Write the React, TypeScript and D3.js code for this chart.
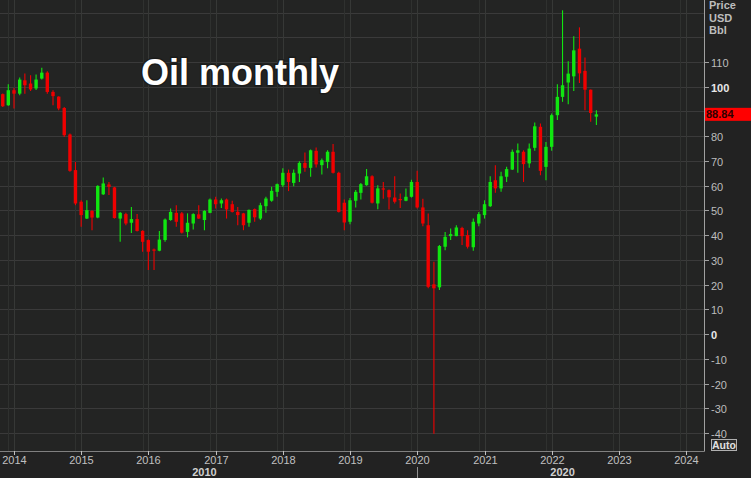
import React, { useEffect } from "react";
import * as d3 from "d3";

const months: string[] = [
  "2013-11", "2013-12",
  "2014-01", "2014-02", "2014-03", "2014-04", "2014-05", "2014-06", "2014-07", "2014-08", "2014-09", "2014-10", "2014-11", "2014-12",
  "2015-01", "2015-02", "2015-03", "2015-04", "2015-05", "2015-06", "2015-07", "2015-08", "2015-09", "2015-10", "2015-11", "2015-12",
  "2016-01", "2016-02", "2016-03", "2016-04", "2016-05", "2016-06", "2016-07", "2016-08", "2016-09", "2016-10", "2016-11", "2016-12",
  "2017-01", "2017-02", "2017-03", "2017-04", "2017-05", "2017-06", "2017-07", "2017-08", "2017-09", "2017-10", "2017-11", "2017-12",
  "2018-01", "2018-02", "2018-03", "2018-04", "2018-05", "2018-06", "2018-07", "2018-08", "2018-09", "2018-10", "2018-11", "2018-12",
  "2019-01", "2019-02", "2019-03", "2019-04", "2019-05", "2019-06", "2019-07", "2019-08", "2019-09", "2019-10", "2019-11", "2019-12",
  "2020-01", "2020-02", "2020-03", "2020-04", "2020-05", "2020-06", "2020-07", "2020-08", "2020-09", "2020-10", "2020-11", "2020-12",
  "2021-01", "2021-02", "2021-03", "2021-04", "2021-05", "2021-06", "2021-07", "2021-08", "2021-09", "2021-10", "2021-11", "2021-12",
  "2022-01", "2022-02", "2022-03", "2022-04", "2022-05", "2022-06", "2022-07", "2022-08", "2022-09",
];

const opens: number[] = [
  97.0, 92.5,
  98.6, 97.2, 102.6, 101.3, 99.3, 103.3, 105.7, 97.9, 96.0, 91.4, 80.7, 66.3,
  53.5, 46.7, 49.8, 47.1, 56.5, 60.5, 59.3, 46.7, 48.5, 45.0, 46.5, 41.7,
  38.0, 34.2, 33.7, 38.0, 46.1, 49.0, 48.8, 41.3, 44.7, 48.4, 46.1, 49.0,
  54.4, 52.8, 54.4, 52.5, 49.4, 48.8, 45.0, 50.5, 46.7, 51.7, 53.9, 57.5,
  60.2, 65.2, 61.1, 64.9, 69.2, 67.2, 74.1, 68.3, 69.6, 73.7, 65.2, 53.1,
  45.4, 53.9, 57.1, 60.2, 63.8, 52.8, 58.9, 58.2, 55.2, 54.6, 53.9, 55.5,
  61.5, 51.2, 44.0, 20.1, 18.9, 35.3, 39.6, 39.6, 42.9, 40.0, 35.1, 44.7,
  48.1, 51.7, 62.2, 58.9, 63.6, 66.5, 73.3, 73.7, 69.0, 75.3, 83.8, 67.6,
  75.7, 88.5, 95.9, 101.7, 104.2, 115.4, 106.4, 98.8, 87.9,
];

const highs: number[] = [
  97.3, 101.0,
  99.5, 103.7, 105.3, 104.6, 104.9, 107.7, 106.3, 98.6, 96.2, 91.8, 81.1, 69.6,
  54.1, 54.1, 50.1, 60.2, 63.3, 61.5, 59.5, 49.4, 49.0, 51.4, 48.5, 42.0,
  38.2, 34.6, 41.7, 46.7, 50.8, 52.1, 49.4, 48.8, 48.8, 52.1, 50.1, 54.8,
  55.5, 54.8, 54.8, 53.9, 51.4, 49.0, 50.4, 50.8, 53.1, 55.5, 59.6, 60.9,
  67.0, 66.5, 66.5, 69.9, 73.4, 74.6, 75.4, 71.0, 74.3, 76.8, 65.6, 54.4,
  55.0, 58.2, 61.1, 66.7, 64.2, 60.2, 61.5, 58.5, 63.8, 56.8, 58.9, 62.4,
  66.0, 54.7, 48.7, 29.2, 36.0, 41.3, 42.7, 44.0, 43.4, 42.0, 46.7, 49.4,
  54.1, 63.8, 68.3, 65.6, 67.6, 74.6, 77.0, 74.3, 77.0, 85.5, 85.1, 77.7,
  89.2, 101.0, 130.9, 110.3, 120.4, 124.0, 111.8, 98.9, 90.5,
];

const lows: number[] = [
  91.8, 92.3,
  91.2, 96.6, 97.2, 98.3, 98.7, 102.9, 97.2, 92.5, 90.5, 79.7, 65.6, 52.1,
  43.4, 46.5, 42.0, 46.8, 56.2, 56.2, 46.7, 37.3, 44.0, 40.9, 41.5, 33.3,
  25.9, 25.9, 33.5, 37.3, 45.8, 43.4, 40.7, 39.1, 42.3, 46.5, 42.0, 48.8,
  50.8, 51.0, 46.7, 49.2, 44.0, 42.0, 43.4, 45.4, 46.1, 49.0, 53.5, 55.5,
  59.5, 57.8, 59.8, 61.5, 65.6, 63.6, 67.3, 64.5, 67.0, 64.9, 49.2, 42.0,
  44.4, 51.2, 54.4, 60.0, 52.8, 50.5, 54.7, 50.4, 52.8, 51.0, 53.7, 55.2,
  50.8, 43.6, 18.5, -40.3, 17.8, 33.9, 38.0, 39.5, 36.0, 34.6, 33.7, 43.6,
  46.7, 51.4, 57.1, 57.5, 61.5, 66.3, 65.2, 61.5, 67.2, 74.1, 64.2, 62.2,
  74.1, 86.5, 93.9, 92.9, 98.3, 101.5, 90.5, 85.8, 84.5,
];

const closes: number[] = [
  92.1, 98.6,
  97.2, 102.9, 100.6, 98.9, 102.9, 105.7, 97.9, 96.2, 91.2, 80.4, 66.0, 52.8,
  48.1, 50.1, 47.1, 59.9, 60.9, 59.5, 46.9, 49.0, 44.7, 46.5, 41.7, 37.3,
  33.3, 33.7, 38.2, 46.3, 49.4, 45.4, 41.0, 45.0, 48.5, 46.7, 49.8, 54.4,
  52.5, 54.1, 50.4, 49.4, 48.1, 44.0, 50.2, 47.2, 52.1, 54.8, 57.9, 60.6,
  65.2, 61.5, 65.2, 69.2, 67.2, 74.3, 68.6, 70.3, 73.7, 65.2, 49.4, 45.1,
  54.1, 57.5, 60.6, 63.8, 53.1, 58.9, 58.5, 55.3, 53.5, 54.2, 55.5, 61.5,
  51.2, 44.7, 19.1, 18.5, 35.6, 39.3, 40.4, 43.1, 39.6, 35.3, 45.4, 48.5,
  52.5, 61.5, 58.9, 63.8, 66.7, 73.7, 74.3, 68.7, 75.0, 84.0, 66.0, 75.7,
  88.5, 95.9, 100.6, 105.3, 114.7, 105.4, 98.8, 89.4, 88.84,
];

const yearTicks: number[] = [2014, 2015, 2016, 2017, 2018, 2019, 2020, 2021, 2022, 2023, 2024];
const priceTicks: number[] = [110, 100, 80, 70, 60, 50, 40, 30, 20, 10, 0, -10, -20, -30, -40];
const boldPriceTicks: number[] = [100, 0];
const gridValues: number[] = [130, 120, 110, 100, 90, 80, 70, 60, 50, 40, 30, 20, 10, 0, -10, -20, -30, -40];
const decadeLabels: { label: string; at: string }[] = [
  { label: "2010", at: "2016-11" },
  { label: "2020", at: "2022-03" },
];
const unitLines: string[] = ["Price", "USD", "Bbl"];
const lastPriceLabel = "88.84";
const titleText = "Oil monthly";

const W = 751;
const H = 478;
const AXIS_X = 704;
const AXIS_Y = 451;
const UP = "#10e610";
const DOWN = "#f00000";
const FONT = "'Liberation Sans', Arial, sans-serif";

export default function App() {
  useEffect(() => {
    document.body.style.margin = "0";
    document.body.style.background = "#222222";
  }, []);

  const parse = d3.timeParse("%Y-%m");
  const x = d3
    .scaleTime()
    .domain([new Date(2014, 0, 1), new Date(2024, 0, 1)])
    .range([14, 686]);
  const y = d3.scaleLinear().domain([-40, 110]).range([433, 62]);

  const candles = months.map((m, i) => ({
    date: parse(m) as Date,
    o: opens[i],
    h: highs[i],
    l: lows[i],
    c: closes[i],
  }));

  const bodyW = 3.4;

  return (
    <svg
      width={W}
      height={H}
      style={{ position: "absolute", left: 0, top: 0, display: "block" }}
      fontFamily={FONT}
    >
      <defs>
        <clipPath id="plot">
          <rect x={0} y={0} width={AXIS_X} height={AXIS_Y} />
        </clipPath>
      </defs>
      <rect x={0} y={0} width={W} height={H} fill="#222222" />
      <rect x={0} y={0} width={AXIS_X} height={AXIS_Y} fill="#232423" />

      <g clipPath="url(#plot)">
        {gridValues.map((v) => (
          <line
            key={"h" + v}
            x1={0}
            x2={AXIS_X}
            y1={Math.round(y(v)) + 0.5}
            y2={Math.round(y(v)) + 0.5}
            stroke="#3a3a3a"
            strokeWidth={1}
          />
        ))}
        {yearTicks.map((yr) => (
          <g key={"v" + yr}>
            <line
              x1={Math.round(x(new Date(yr, 0, 1))) + 0.5}
              x2={Math.round(x(new Date(yr, 0, 1))) + 0.5}
              y1={0}
              y2={AXIS_Y}
              stroke="#363836"
              strokeWidth={1}
            />
            <line
              x1={Math.round(x(new Date(yr - 1, 11, 1))) + 0.5}
              x2={Math.round(x(new Date(yr - 1, 11, 1))) + 0.5}
              y1={0}
              y2={AXIS_Y}
              stroke="#2f312f"
              strokeWidth={1}
            />
          </g>
        ))}

        {candles.map((d, i) => {
          const cx = x(d.date);
          const up = d.c >= d.o;
          const col = up ? UP : DOWN;
          const top = y(Math.max(d.o, d.c));
          const bot = y(Math.min(d.o, d.c));
          return (
            <g key={"c" + i}>
              <line x1={cx} x2={cx} y1={y(d.h)} y2={y(d.l)} stroke={col} strokeWidth={1.1} />
              <rect
                x={cx - bodyW / 2}
                y={top}
                width={bodyW}
                height={Math.max(1.2, bot - top)}
                fill={col}
              />
            </g>
          );
        })}
      </g>

      <text
        x={141}
        y={85}
        fontSize={36}
        fontWeight="bold"
        fill="#ffffff"
        stroke="#151515"
        strokeWidth={3}
        strokeOpacity={0.6}
        style={{ paintOrder: "stroke" }}
      >
        {titleText}
      </text>

      {/* axes */}
      <line x1={AXIS_X + 0.5} x2={AXIS_X + 0.5} y1={0} y2={AXIS_Y + 0.5} stroke="#a0a0a0" strokeWidth={1} />
      <line x1={0} x2={AXIS_X + 0.5} y1={AXIS_Y + 0.5} y2={AXIS_Y + 0.5} stroke="#808080" strokeWidth={1} />

      {priceTicks.map((v) => {
        const py = Math.round(y(v)) + 0.5;
        const bold = boldPriceTicks.includes(v);
        return (
          <g key={"pt" + v}>
            <line x1={AXIS_X} x2={AXIS_X + 5} y1={py} y2={py} stroke="#a0a0a0" />
            <text
              x={AXIS_X + 7}
              y={py + 4}
              fontSize={11}
              fill={bold ? "#e8e8e8" : "#bdbdbd"}
              fontWeight={bold ? "bold" : "normal"}
            >
              {v}
            </text>
          </g>
        );
      })}

      {unitLines.map((t, i) => (
        <text key={t} x={709} y={9 + i * 12.5} fontSize={11} fontWeight="bold" fill="#bdbdbd">
          {t}
        </text>
      ))}

      <rect x={AXIS_X + 1} y={y(88.84) - 6.5} width={W - AXIS_X - 1} height={13} fill="#ff0000" />
      <text x={AXIS_X + 2} y={y(88.84) + 4} fontSize={11} fontWeight="bold" fill="#300000">
        {lastPriceLabel}
      </text>

      <rect x={711.5} y={439.5} width={25} height={11} fill="#2c2c2c" stroke="#b0b0b0" strokeWidth={1} />
      <text x={724} y={448.5} fontSize={10.5} fontWeight="bold" fill="#e0e0e0" textAnchor="middle">
        Auto
      </text>

      {yearTicks.map((yr) => {
        const px = Math.round(x(new Date(yr, 0, 1))) + 0.5;
        return (
          <g key={"xt" + yr}>
            <line x1={px} x2={px} y1={AXIS_Y} y2={AXIS_Y + 4} stroke="#c0c0c0" />
            <text x={px} y={464} fontSize={11} fill="#c0c0c0" textAnchor="middle">
              {yr}
            </text>
          </g>
        );
      })}

      <line
        x1={Math.round(x(new Date(2020, 0, 1))) + 0.5}
        x2={Math.round(x(new Date(2020, 0, 1))) + 0.5}
        y1={467}
        y2={H}
        stroke="#909090"
      />
      {decadeLabels.map((d) => (
        <text
          key={d.label}
          x={x(parse(d.at) as Date)}
          y={476}
          fontSize={11}
          fontWeight="bold"
          fill="#d0d0d0"
          textAnchor="middle"
        >
          {d.label}
        </text>
      ))}
    </svg>
  );
}
